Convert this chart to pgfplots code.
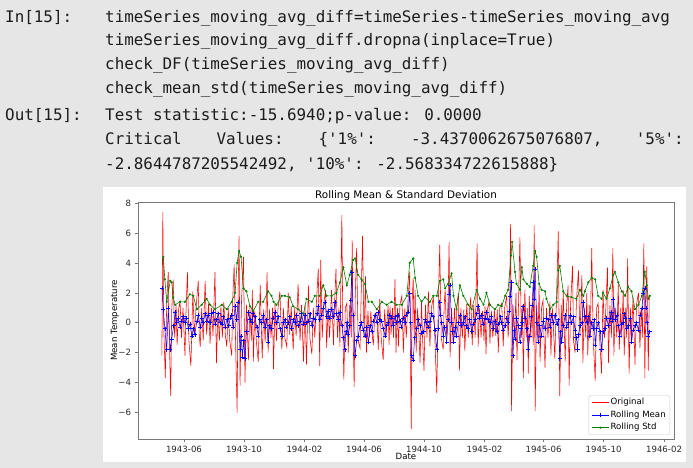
\documentclass[border=0pt]{standalone}
\usepackage{pgfplots}
\pgfplotsset{compat=1.18}
\usepackage{fontspec}
\setmainfont{DejaVu Sans}
\newfontfamily\codefont{DejaVu Sans Mono}
\definecolor{bggray}{RGB}{230,230,230}
\definecolor{codecol}{RGB}{28,28,28}
\definecolor{mplgreen}{RGB}{0,128,0}
\definecolor{spine}{RGB}{120,120,120}

\begin{document}
\begin{tikzpicture}
\fill[bggray] (0bp,0bp) rectangle (693bp,468bp);
\fill[white] (103bp,6bp) rectangle (686bp,281bp);
\begin{scope}[every node/.style={anchor=base west, inner sep=0pt, font=\codefont\fontsize{15.9bp}{18bp}\selectfont, text=codecol}]
\node at (5bp,445bp) {In[15]:};
\node at (105bp,445bp) {timeSeries\_moving\_avg\_diff=timeSeries-timeSeries\_moving\_avg};
\node at (105bp,422bp) {timeSeries\_moving\_avg\_diff.dropna(inplace=True)};
\node at (105bp,398bp) {check\_DF(timeSeries\_moving\_avg\_diff)};
\node at (105bp,374bp) {check\_mean\_std(timeSeries\_moving\_avg\_diff)};
\node at (5bp,347bp) {Out[15]:};
\node at (105bp,347bp) {Test statistic:-15.6940;p-value: 0.0000};
\node at (105bp,323bp) {Critical};
\node at (216.4bp,323bp) {Values:};
\node at (318.4bp,323bp) {\{\textquotesingle 1\%\textquotesingle :};
\node at (410.9bp,323bp) {-3.4370062675076807,};
\node at (635.7bp,323bp) {\textquotesingle 5\%\textquotesingle :};
\node at (105bp,298bp) {-2.8644787205542492, \textquotesingle 10\%\textquotesingle : -2.568334722615888\}};
\end{scope}

\begin{axis}[
  at={(138bp,29bp)}, anchor=south west, scale only axis,
  width=536bp, height=237bp,
  xmin=-93.5, xmax=996.3, ymin=-7.77, ymax=8.07,
  axis line style={spine, line width=0.6bp},
  tick align=outside, tick pos=left,
  major tick length=3.5bp,
  tick style={spine, line width=0.6bp},
  xtick={0,122,245,366,488,611,731,853,976},
  xticklabels={1943-06,1943-10,1944-02,1944-06,1944-10,1945-02,1945-06,1945-10,1946-02},
  ytick={-6,-4,-2,0,2,4,6,8},
  yticklabels={−6,−4,−2,0,2,4,6,8},
  ticklabel style={font=\fontsize{8.6bp}{10bp}\selectfont, text=black!85},
  every axis title shift=0pt,
  title={Rolling Mean \& Standard Deviation},
  title style={font=\fontsize{10.4bp}{12bp}\selectfont, at={(axis description cs:0.5,1.0127)}, anchor=base, inner sep=0pt},
  xlabel={Date},
  xlabel style={font=\fontsize{8.6bp}{10bp}\selectfont, at={(axis description cs:0.5,-0.0886)}, anchor=base, inner sep=0pt},
  ylabel={Mean Temperature},
  ylabel style={font=\fontsize{8.6bp}{10bp}\selectfont, at={(axis description cs:-0.043,0.5)}, anchor=center, inner sep=0pt},
  legend style={at={(axis description cs:1,0)}, anchor=south east, xshift=-4bp, yshift=4bp,
    font=\fontsize{8.6bp}{10bp}\selectfont, draw=black!20, rounded corners=2bp,
    fill=white, inner xsep=2.5bp, inner ysep=1.5bp, row sep=1.2bp,
    nodes={inner sep=1.6bp, text height=6.3bp, text depth=1.8bp}},
  legend cell align=left,
]
\addplot[red, line width=0.55bp] coordinates {
(-45,-2.2)(-43,7.4)(-41,-0.5)(-38,-3.7)(-35,1.5)(-32,3.4)(-30,-1.0)(-27,-4.9)(-25,0.8)(-22,2.9)(-19,-1.0)(-16,1.2)(-14,-1.5)(-11,0.9)(-8,1.4)(-5,-1.0)(-2,1.0)(2,-2.2)(4,0.6)(7,3.4)(10,-1.2)(14,-2.9)(18,2.1)(21,-0.8)(25,1.2)(29,2.8)(31,-0.8)(33,-1.6)(36,1.0)(39,-1.2)(43,2.8)(46,-0.8)(50,1.3)(53,-1.4)(56,1.0)(59,-0.9)(63,3.4)(66,-2.7)(69,0.8)(72,-1.2)(75,1.1)(78,-1.0)(81,1.4)(84,-0.8)(87,-1.6)(90,1.0)(93,-1.2)(97,-2.2)(99,1.5)(102,3.9)(105,-1.5)(108,-6.0)(110,2.0)(112,5.8)(114,-4.2)(117,1.5)(121,4.4)(124,-4.0)(127,1.2)(131,-2.5)(134,1.0)(137,-1.2)(139,2.2)(141,-2.6)(144,0.8)(147,-1.2)(151,-2.6)(155,2.5)(159,-2.4)(162,0.9)(165,-1.3)(169,3.4)(171,-2.0)(174,0.9)(177,-1.0)(180,1.0)(182,-3.1)(185,1.3)(188,-1.2)(191,0.9)(195,2.1)(199,-1.8)(202,1.0)(205,-1.0)(209,-1.6)(212,2.0)(215,-0.8)(218,1.1)(222,-1.8)(225,1.0)(228,-0.9)(232,2.6)(236,-1.2)(239,1.2)(243,-2.6)(246,1.2)(249,-2.8)(253,2.5)(256,-1.0)(260,-2.1)(263,1.0)(266,-1.0)(269,1.2)(273,3.6)(276,-2.9)(278,4.2)(281,-1.0)(284,1.2)(288,2.2)(290,-1.7)(293,1.0)(296,-1.0)(300,2.2)(304,-1.5)(306,1.2)(309,3.6)(312,-1.0)(315,1.0)(317,-1.6)(321,7.2)(323,-0.5)(325,-3.8)(328,1.0)(331,1.3)(334,-2.0)(337,1.2)(340,-1.0)(342,5.5)(344,-1.0)(346,-4.3)(348,1.5)(351,5.0)(354,-1.2)(358,-1.7)(360,1.5)(363,5.8)(366,-1.0)(369,3.1)(371,-2.0)(374,0.8)(377,-1.0)(380,0.8)(383,-0.9)(385,-1.5)(388,0.6)(392,0.7)(395,-1.8)(398,1.6)(401,-1.0)(405,-2.5)(408,0.9)(411,-0.9)(415,1.2)(417,-1.5)
(419,1.1)(421,-0.8)(424,1.0)(426,-1.0)(429,2.9)(431,-2.0)(434,1.0)(436,-1.6)(439,1.2)(443,1.8)(446,-2.0)(449,1.0)(452,-1.0)(455,1.2)(459,3.4)(462,-7.1)(464,1.5)(466,3.0)(468,-1.0)(470,2.2)(472,-2.0)(475,1.0)(478,-1.0)(480,-2.7)(483,1.5)(485,-1.0)(488,-3.2)(491,1.2)(494,-1.0)(497,2.1)(500,-1.6)(503,1.0)(507,1.7)(510,-1.0)(514,-4.7)(517,1.2)(520,5.2)(523,-1.0)(527,-1.8)(529,1.2)(531,2.2)(534,-1.0)(537,1.5)(539,5.4)(541,-2.3)(544,1.0)(547,-1.2)(550,1.0)(553,-1.0)(555,1.2)(558,2.0)(560,-3.2)(563,1.0)(566,-1.0)(569,0.9)(571,-1.9)(575,1.3)(578,-1.0)(581,1.0)(583,1.7)(586,-1.5)(589,1.2)(592,-1.0)(596,5.3)(598,-1.6)(601,1.0)(604,-1.0)(607,0.8)(610,-1.2)(612,1.1)(614,-2.1)(617,0.9)(620,1.4)(622,-1.4)(625,0.8)(628,-1.0)(631,0.9)(634,-0.9)(637,0.9)(639,-2.0)(642,1.0)(646,1.3)(649,-1.6)(652,1.0)(656,1.8)(659,-1.0)(662,1.0)(664,6.6)(666,-5.9)(669,1.2)(672,-1.0)(675,2.0)(677,-2.5)(680,1.0)(683,5.7)(686,-1.0)(688,1.2)(690,-3.7)(693,2.2)(696,-1.0)(698,1.0)(700,-3.4)(702,1.8)(705,-1.0)(708,1.2)(710,-1.5)(712,6.5)(714,-5.9)(717,1.2)(720,-1.0)(722,2.5)(724,-2.6)(727,1.0)(730,1.5)(732,-1.0)(734,-3.0)(737,1.0)(740,-1.0)(744,1.4)(746,-2.2)(749,1.0)(752,-1.0)(754,-2.4)(757,1.2)(761,6.1)(764,-4.9)(767,1.2)(769,-1.0)(771,2.2)(775,-2.6)(778,1.2)(781,2.5)(783,-4.2)(786,1.2)(790,3.8)(792,-1.2)(795,-2.0)(798,1.5)(802,3.5)(805,-1.0)(809,3.2)(811,-2.7)(814,1.0)(817,-1.0)(819,2.0)(821,-2.2)(824,1.2)(826,-1.0)(829,5.0)(832,-1.0)(836,-3.9)(839,1.0)(842,1.3)(845,-1.0)(849,-3.4)(852,2.2)(855,-1.0)(858,1.2)(861,3.7)(863,-2.7)(866,1.2)(869,-1.0)(872,5.0)(874,-2.2)(877,1.0)(880,-1.0)(883,2.6)(885,-1.8)(888,1.0)(890,-1.0)(893,2.2)(895,-2.2)(898,1.0)(900,-1.0)(902,4.3)(905,-3.4)(908,1.0)(910,-1.0)(913,1.7)(917,-2.8)(920,1.2)(924,2.0)(927,-1.7)(930,1.0)(932,-1.0)(935,5.3)(937,-3.7)(939,1.0)(941,3.8)(944,-3.2)(946,1.8)
};
\addlegendentry{Original}
\addplot[blue, line width=0.5bp, mark=+, mark size=2.1bp, mark options={line width=0.55bp}] coordinates {
(-45,2.3)(-42,0.9)(-39,-0.4)(-35,-1.8)(-32,1.0)(-28,-1.8)(-25,-1.1)(-21,-0.2)(-18,0.7)(-15,0.0)(-12,0.3)(-8,-0.3)(-5,0.1)(-1,0.4)(2,0.0)(5,0.3)(9,-0.4)(12,-0.1)(16,-0.9)(19,-0.4)(22,-0.8)(26,0.1)(29,0.5)(33,-0.3)(36,0.3)(39,0.0)(43,0.6)(46,0.1)(49,0.5)(53,0.0)(56,0.6)(60,0.7)(63,-0.1)(66,0.2)(70,0.6)(73,0.0)(77,-0.1)(80,0.4)(84,-0.3)(87,0.2)(91,-0.2)(94,0.3)(97,0.5)(100,-0.3)(104,1.1)(107,0.2)(110,1.4)(114,-1.8)(116,-0.9)(119,-2.3)(121,-1.2)(124,-2.4)(127,-0.6)(131,0.7)(134,0.2)(138,0.0)(141,0.6)(144,0.4)(148,-0.3)(151,-0.9)(154,0.2)(158,0.0)(161,0.5)(165,-0.3)(168,0.2)(171,-1.3)(174,-0.2)(178,-0.4)(181,0.3)(185,0.7)(188,0.0)(192,0.4)(195,-0.4)(199,-0.9)(202,0.0)(205,0.2)(208,-0.3)(212,0.0)(215,0.4)(219,-0.4)(222,0.2)(226,0.0)(229,0.5)(232,-0.2)(236,0.1)(239,0.6)(243,-0.1)(246,0.5)(249,0.0)(253,0.1)(256,0.6)(260,-0.2)(263,0.3)(266,0.2)(270,0.6)(273,1.1)(276,0.2)(280,0.5)(283,1.0)(287,1.4)(290,0.4)(293,0.8)(296,0.3)(300,0.9)(303,0.4)(307,1.4)(310,0.6)(314,0.2)(317,0.7)(321,-0.2)(324,-1.0)(327,-1.8)(329,-0.6)(331,0.0)(334,-0.8)(337,-0.2)(339,1.5)(341,3.4)(344,0.5)(348,-2.2)(351,-1.2)(354,-0.9)(358,-0.2)(361,0.0)(364,-0.5)(368,-0.9)(371,-0.3)(375,-1.3)(378,-0.2)(382,-0.6)(385,0.1)(388,0.5)(392,0.0)(395,0.7)(398,0.2)(402,0.1)(405,-0.4)(409,-0.9)(412,-0.2)(415,0.0)(418,0.5)(422,0.3)(425,-0.2)(429,0.4)(432,0.0)(435,0.5)(439,0.1)(442,-0.3)(446,0.3)(449,0.0)(452,0.5)(456,0.7)(459,2.0)(461,0.0)(463,-2.2)(466,-2.5)(469,-1.0)(473,-0.4)(476,0.2)(480,-0.2)(483,-0.7)(487,-0.6)(490,0.2)(493,0.0)(497,-0.3)(500,0.1)(503,0.6)(507,0.4)(510,-0.5)(514,-1.8)(517,-0.4)(520,1.4)(522,0.5)(524,0.0)(527,-0.9)(530,-0.3)(534,-1.3)(537,0.2)(539,1.9)(541,2.5)(544,0.0)(546,-0.6)(548,-1.3)(551,-0.3)(554,-0.9)(558,0.0)(561,0.5)(564,-0.2)(568,0.0)(571,0.4)(574,-0.2)(578,-0.4)(581,0.2)(585,-0.6)(588,-0.1)(592,0.2)(595,0.6)(598,1.1)(601,0.3)(605,0.5)(608,-0.1)(612,0.3)(615,0.7)(618,0.2)(622,0.0)(625,0.4)(629,-0.4)(632,0.1)(636,-0.6)(639,-0.1)(642,0.0)(644,0.4)(646,0.0)(649,-0.5)(653,-0.2)(656,0.3)(659,0.0)(661,0.8)(663,1.8)(666,2.7)(669,-2.2)(671,-0.5)(673,-1.1)(676,0.3)(680,-0.2)(683,-1.3)(685,-0.4)(687,0.0)(690,1.1)(693,0.3)(697,-0.4)(700,-1.8)(703,-0.9)(706,0.4)(708,1.2)(710,2.7)(712,1.6)(714,3.6)(717,0.0)(720,-1.3)(723,-0.2)(727,-0.9)(730,0.1)(734,-0.4)(737,0.3)(741,0.2)(744,-0.3)(747,0.5)(751,0.0)(754,0.5)(758,-0.1)(761,0.2)(764,-2.4)(766,-0.6)(768,-1.3)(771,-0.2)(775,0.5)(778,-0.3)(781,0.0)(785,0.5)(788,0.0)(792,0.4)(795,-0.5)(798,-1.0)(800,-1.8)(802,-0.8)(805,-0.2)(809,0.0)(812,1.4)(815,0.4)(819,0.0)(822,0.4)(825,-0.9)(829,0.0)(832,-0.4)(834,0.2)(836,-1.5)(839,-0.4)(842,0.0)(846,-0.6)(849,-1.8)(852,-0.6)(856,-0.4)(859,0.3)(863,-0.2)(866,0.3)(869,0.7)(871,0.1)(873,1.6)(877,0.2)(880,0.5)(883,-0.2)(886,-0.9)(890,-0.1)(893,0.0)(895,0.6)(897,0.3)(900,-0.4)(903,-0.2)(907,0.3)(910,-1.3)(913,-0.5)(917,-0.2)(920,0.0)(924,-0.5)(927,0.5)(931,1.0)(934,2.0)(937,2.3)(939,1.0)(941,0.0)(944,-0.9)(947,-0.6)
};
\addlegendentry{Rolling Mean}
\addplot[mplgreen, line width=0.6bp, mark=*, mark size=0.75bp] coordinates {
(-42,4.4)(-39,2.9)(-35,1.4)(-28,2.8)(-25,2.7)(-22,1.7)(-18,1.2)(-8,1.4)(2,1.4)(12,1.9)(19,1.8)(26,0.9)(36,1.2)(46,1.6)(53,1.2)(63,0.9)(77,1.2)(87,0.9)(97,1.4)(104,2.0)(108,4.0)(112,4.8)(116,4.4)(121,2.3)(127,2.1)(134,1.1)(141,0.8)(151,1.4)(161,1.4)(171,2.1)(178,1.8)(182,1.4)(188,1.2)(199,1.8)(205,1.8)(215,1.7)(222,1.1)(232,0.9)(243,0.6)(249,1.6)(260,1.4)(266,1.8)(276,1.8)(283,2.5)(290,1.8)(300,1.8)(310,2.0)(317,2.7)(324,3.7)(331,2.5)(337,3.2)(344,4.2)(348,4.3)(354,3.2)(361,2.9)(368,2.6)(375,1.4)(382,1.4)(392,0.9)(402,1.4)(412,1.2)(422,1.4)(432,1.2)(443,1.2)(453,1.8)(459,4.0)(466,4.3)(470,3.0)(476,1.8)(483,1.4)(490,1.7)(500,1.4)(507,1.8)(514,1.8)(520,2.8)(527,2.9)(531,2.3)(537,2.6)(544,3.3)(548,1.8)(554,0.9)(561,2.5)(568,1.8)(578,1.2)(585,0.9)(595,2.2)(602,1.6)(609,1.2)(615,2.0)(622,1.2)(632,0.9)(639,1.2)(646,1.1)(653,1.8)(659,2.2)(665,4.5)(667,5.4)(673,3.4)(676,2.6)(683,2.2)(687,3.7)(690,2.9)(697,2.6)(703,2.4)(710,3.8)(714,4.8)(717,4.4)(722,2.6)(727,2.2)(734,2.1)(737,1.6)(744,0.9)(751,1.2)(758,1.4)(761,3.5)(764,3.8)(771,2.1)(778,1.8)(788,1.7)(798,1.6)(805,2.2)(812,1.8)(815,2.1)(822,2.7)(829,3.0)(836,2.9)(842,1.8)(849,1.6)(852,2.0)(859,1.6)(866,2.3)(873,3.2)(876,3.4)(883,2.7)(890,2.1)(897,1.8)(903,2.4)(910,2.1)(917,0.9)(924,1.2)(931,1.8)(937,3.4)(941,2.5)(944,1.6)(947,1.8)
};
\addlegendentry{Rolling Std}
\end{axis}
\end{tikzpicture}
\end{document}
